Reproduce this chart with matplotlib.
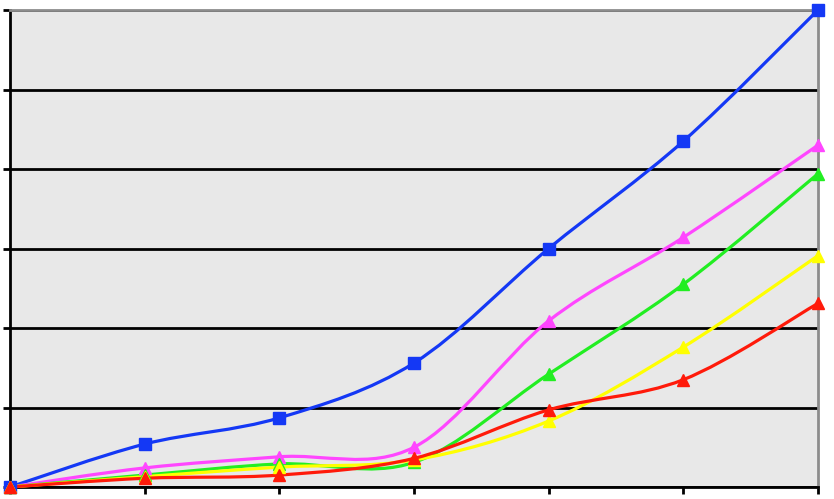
import matplotlib.pyplot as plt
import numpy as np
from matplotlib.path import Path
from matplotlib.patches import PathPatch

# ---- Data ----
x = [0, 1, 2, 3, 4, 5, 6]
blue = [0, 0.54, 0.87, 1.56, 3.0, 4.35, 6.0]
magenta = [0, 0.24, 0.38, 0.50, 2.09, 3.14, 4.30]
green = [0, 0.15, 0.29, 0.31, 1.42, 2.55, 3.94]
yellow = [0, 0.13, 0.25, 0.34, 0.83, 1.76, 2.91]
red = [0, 0.11, 0.15, 0.36, 0.97, 1.35, 2.31]

series = [
    (blue, '#1438f5', 's'),
    (magenta, '#ff46ff', '^'),
    (green, '#22ee22', '^'),
    (yellow, '#ffff00', '^'),
    (red, '#ff1a0a', '^'),
]


def smooth_path(xs, ys):
    # Excel-like smoothed line: cubic bezier through the points
    p = np.column_stack([xs, ys]).astype(float)
    n = len(p)
    verts = [p[0]]
    codes = [Path.MOVETO]
    for i in range(n - 1):
        p0 = p[i - 1] if i > 0 else p[i]
        p3 = p[i + 2] if i + 2 < n else p[i + 1]
        c1 = p[i] + (p[i + 1] - p0) / 6
        c2 = p[i + 1] - (p3 - p[i]) / 6
        verts += [c1, c2, p[i + 1]]
        codes += [Path.CURVE4] * 3
    return Path(verts, codes)


fig = plt.figure(figsize=(8.34, 4.99), dpi=100)
ax = fig.add_axes([10 / 834, 12 / 499, 808 / 834, 477 / 499])
ax.set_facecolor('#e8e8e8')

for ys, col, mk in series:
    ax.add_patch(PathPatch(smooth_path(x, ys), facecolor='none', edgecolor=col,
                           lw=2.3, zorder=3, clip_on=False))
    ax.plot(x, ys, linestyle='none', marker=mk, color=col, markersize=9,
            zorder=4, clip_on=False)

ax.set_xlim(0, 6)
ax.set_ylim(0, 6)
ax.set_yticks(range(7))
ax.set_xticks(x)
ax.yaxis.grid(True, color='black', lw=2)
ax.set_axisbelow(True)
ax.set_xticklabels([])
ax.set_yticklabels([])
ax.tick_params(axis='both', length=5, width=2, color='black')

ax.spines['left'].set_color('black')
ax.spines['bottom'].set_color('black')
ax.spines['left'].set_linewidth(2)
ax.spines['bottom'].set_linewidth(2)
ax.spines['top'].set_color('#8c8c8c')
ax.spines['right'].set_color('#8c8c8c')
ax.spines['top'].set_linewidth(2)
ax.spines['right'].set_linewidth(2)

fig.savefig('out.png', dpi=100)
